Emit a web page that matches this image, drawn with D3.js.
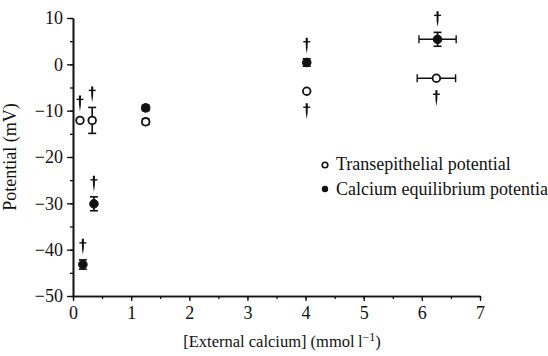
<!DOCTYPE html>
<html><head><meta charset="utf-8">
<script src="https://cdn.jsdelivr.net/npm/d3@7"></script>
<style>
html,body{margin:0;padding:0;background:#fff;}
svg{display:block;font-family:"Liberation Serif","Times New Roman",serif;}
</style></head>
<body><svg id="c" width="548" height="356"></svg>
<script>
// Data
const xTicks = [0,1,2,3,4,5,6,7];
const yTicks = [10,0,-10,-20,-30,-40,-50];
// Transepithelial potential (open)
const transX    = [0.12, 0.33, 1.25, 4.02, 6.25];
const transY    = [-12.1, -12.1, -12.4, -5.8, -3.0];
const transYErr = [0, 2.8, 0.6, 0, 0];
const transXErr = [0, 0, 0, 0, 0.33];
const transDagger = ["above","above","none","below","below"];
// Calcium equilibrium potential (filled)
const caX    = [0.17, 0.36, 1.25, 4.02, 6.27];
const caY    = [-43.2, -30.1, -9.4, 0.4, 5.4];
const caYErr = [1.0, 1.5, 0.6, 0.8, 1.5];
const caXErr = [0, 0, 0, 0, 0.32];
const caDagger = ["above","above","none","above","above"];
const legendLabels = ["Transepithelial potential", "Calcium equilibrium potentia"];

const svg = d3.select("#c");
const x = d3.scaleLinear().domain([0,7]).range([73,480]);
const y = d3.scaleLinear().domain([-50,10]).range([296,18]);
const ink = "#111";

// axes
const gx = svg.append("g").attr("transform","translate(0,296)");
gx.call(d3.axisBottom(x).tickValues(d3.range(0,7.01,0.5)).tickFormat("").tickSize(3).tickSizeOuter(0));
const gx2 = svg.append("g").attr("transform","translate(0,296)");
gx2.call(d3.axisBottom(x).tickValues(xTicks).tickFormat(d3.format("d")).tickSize(5).tickSizeOuter(0).tickPadding(5));
const gy = svg.append("g").attr("transform","translate(73,0)");
gy.call(d3.axisLeft(y).tickValues(d3.range(-50,10.01,5)).tickFormat("").tickSize(3).tickSizeOuter(0));
const gy2 = svg.append("g").attr("transform","translate(73,0)");
gy2.call(d3.axisLeft(y).tickValues(yTicks).tickFormat(d => d<0 ? "\u2212"+Math.abs(d) : d).tickSize(6).tickSizeOuter(0).tickPadding(4));
svg.selectAll(".domain").attr("stroke",ink).attr("stroke-width",1.6);
svg.selectAll(".tick line").attr("stroke",ink).attr("stroke-width",1.3);
svg.selectAll(".tick text").attr("font-family","Liberation Serif, serif").attr("font-size",18).attr("fill",ink);
gx2.selectAll(".tick text").attr("y",23).attr("dy",0);
gy2.selectAll(".tick text").attr("dy","0.33em").attr("x",-10);

// axis labels
svg.append("text").attr("transform","translate(16,157) rotate(-90)")
  .attr("text-anchor","middle").attr("font-size",18).attr("fill",ink).text("Potential (mV)");
const xl = svg.append("text").attr("x",282).attr("y",347).attr("text-anchor","middle")
  .attr("font-size",16.5).attr("fill",ink);
xl.append("tspan").text("[External calcium] (mmol\u2009l");
xl.append("tspan").attr("dy",-6).attr("font-size",12).text("\u22121");
xl.append("tspan").attr("dy",6).text(")");

function dagger(g, cx, top){
  const h = 16;
  g.append("path")
    .attr("d", `M${cx-1.1},${top} L${cx+1.1},${top} L${cx+0.9},${top+h*0.6} L${cx},${top+h} L${cx-0.9},${top+h*0.6} Z`)
    .attr("fill",ink);
  g.append("line").attr("x1",cx-3.5).attr("x2",cx+3.5).attr("y1",top+4).attr("y2",top+4)
    .attr("stroke",ink).attr("stroke-width",1.4);
}

function series(X,Y,YE,XE,DG,filled){
  const g = svg.append("g");
  X.forEach((xv,i)=>{
    const cx = x(xv), cy = y(Y[i]);
    const cap = 4;
    if (YE[i]>0){
      const y1=y(Y[i]+YE[i]), y2=y(Y[i]-YE[i]);
      g.append("line").attr("x1",cx).attr("x2",cx).attr("y1",y1).attr("y2",y2).attr("stroke",ink).attr("stroke-width",1.6);
      [y1,y2].forEach(yy=>g.append("line").attr("x1",cx-cap).attr("x2",cx+cap).attr("y1",yy).attr("y2",yy).attr("stroke",ink).attr("stroke-width",1.6));
    }
    if (XE[i]>0){
      const x1=x(xv-XE[i]), x2=x(xv+XE[i]);
      g.append("line").attr("x1",x1).attr("x2",x2).attr("y1",cy).attr("y2",cy).attr("stroke",ink).attr("stroke-width",1.6);
      [x1,x2].forEach(xx=>g.append("line").attr("x1",xx).attr("x2",xx).attr("y1",cy-4).attr("y2",cy+4).attr("stroke",ink).attr("stroke-width",1.4));
    }
    g.append("circle").attr("cx",cx).attr("cy",cy).attr("r",filled?4.3:3.8)
      .attr("fill",filled?ink:"#fff").attr("stroke",ink).attr("stroke-width",filled?1:1.8);
    if (DG[i]==="above"){
      const top = YE[i]>0 ? y(Y[i]+YE[i]) : cy-4;
      dagger(g, cx, top - 5 - 16);
    } else if (DG[i]==="below"){
      const bot = YE[i]>0 ? y(Y[i]-YE[i]) : cy+4;
      dagger(g, cx, bot + 8);
    }
  });
}
series(transX,transY,transYErr,transXErr,transDagger,false);
series(caX,caY,caYErr,caXErr,caDagger,true);

// legend
const lg = svg.append("g");
lg.append("circle").attr("cx",325).attr("cy",165).attr("r",2.8).attr("fill","#fff").attr("stroke",ink).attr("stroke-width",1.6);
lg.append("text").attr("x",336).attr("y",170).attr("font-size",18).attr("fill",ink).text(legendLabels[0]);
lg.append("circle").attr("cx",325).attr("cy",189).attr("r",3.2).attr("fill",ink);
lg.append("text").attr("x",336).attr("y",195).attr("font-size",18).attr("fill",ink).text(legendLabels[1]);
</script></body></html>
